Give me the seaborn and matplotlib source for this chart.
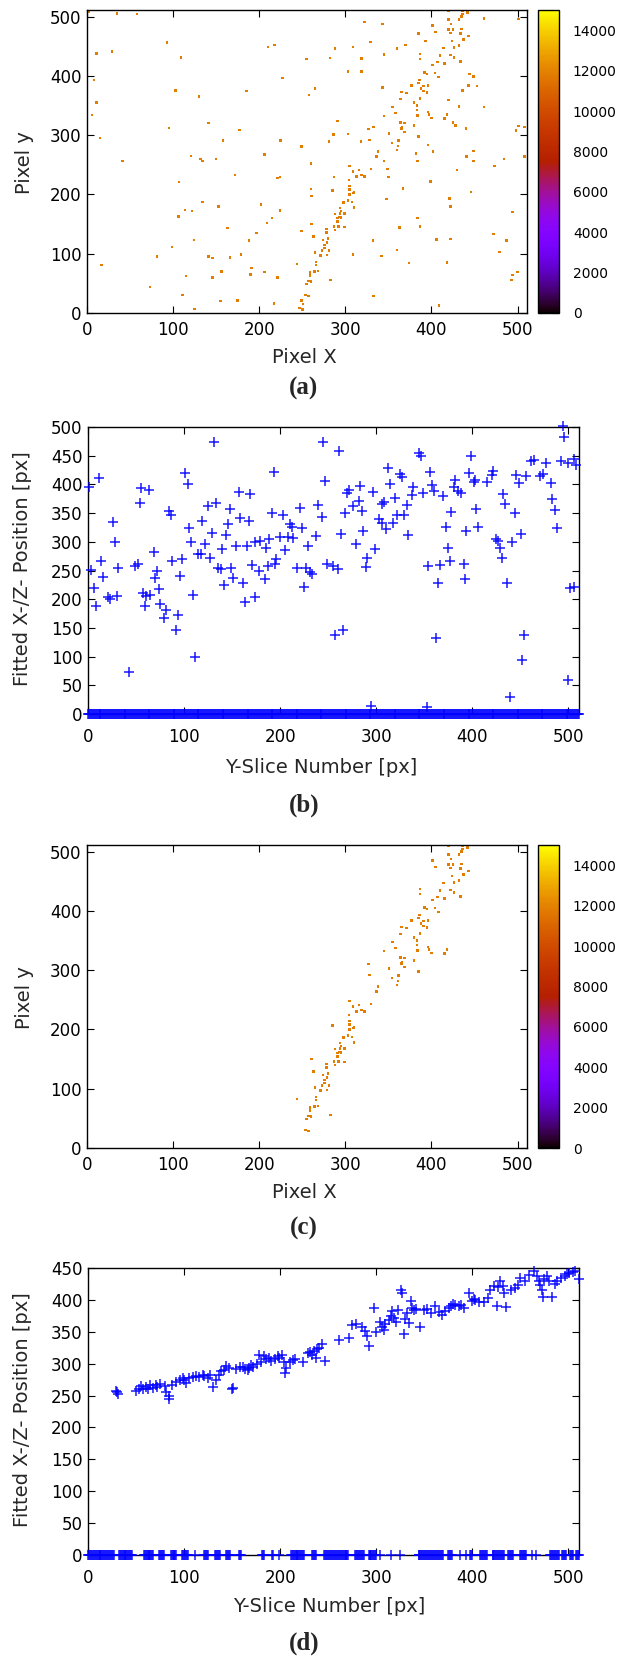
import matplotlib
matplotlib.use("Agg")
import matplotlib.pyplot as plt
from matplotlib.colors import Normalize
from matplotlib.cm import ScalarMappable
import numpy as np
import pandas as pd
import seaborn as sns

# ---------------------------------------------------------------------------
# Hit pixels of the detector image (pixel x, pixel y)
# ---------------------------------------------------------------------------
TRACK_X = [442, 436, 436, 420, 435, 432, 420, 423, 401, 435, 420, 425, 405, 422, 434, 443, 437, 424,
           432, 414, 426, 387, 410, 422, 426, 387, 407, 415, 434, 401, 392, 395, 404, 408, 386, 385,
           377, 391, 396, 388, 391, 395, 365, 371, 364, 387, 380, 383, 355, 383, 396, 397, 358, 345,
           384, 400, 415, 418, 369, 364, 380, 366, 327, 365, 369, 351, 385, 328, 354, 362, 361, 360,
           338, 336, 305, 309, 316, 330, 319, 322, 313, 304, 285, 305, 305, 310, 309, 305, 298, 303,
           308, 310, 294, 295, 294, 288, 299, 293, 295, 291, 261, 291, 292, 287, 299, 278, 288, 278,
           263, 280, 274, 279, 276, 276, 281, 273, 265, 271, 279, 244, 266, 266, 283, 264, 268, 259,
           259, 257, 260, 255, 254, 257]
TRACK_Y = [507, 510, 504, 510, 500, 495, 495, 487, 485, 479, 478, 478, 474, 472, 471, 467, 461, 459,
           451, 447, 448, 437, 434, 435, 431, 428, 423, 421, 424, 418, 406, 403, 405, 398, 393, 388,
           384, 383, 384, 379, 374, 372, 373, 371, 361, 362, 355, 350, 347, 342, 339, 335, 337, 332,
           333, 329, 328, 335, 320, 321, 316, 314, 310, 311, 305, 303, 298, 292, 287, 291, 282, 275,
           272, 264, 248, 239, 241, 243, 233, 230, 230, 224, 207, 214, 208, 203, 202, 200, 186, 190,
           187, 178, 177, 172, 168, 167, 168, 162, 161, 160, 150, 154, 146, 146, 145, 142, 140, 136,
           129, 126, 123, 119, 115, 110, 105, 105, 102, 97, 98, 83, 86, 81, 56, 70, 71, 68,
           63, 54, 53, 49, 30, 29]

NOISE_X = [2, 35, 58, 93, 29, 11, 109, 210, 218, 8, 103, 130, 185, 227, 11, 6, 141, 95, 177, 15,
           158, 225, 249, 121, 132, 134, 150, 206, 41, 172, 221, 224, 107, 134, 114, 122, 153, 202,
           224, 106, 215, 209, 163, 249, 124, 188, 197, 99, 81, 141, 146, 166, 179, 17, 191, 156,
           206, 190, 115, 146, 221, 73, 111, 155, 175, 217, 125, 249, 251, 247, 250,
           461, 501, 343, 322, 385, 393, 329, 309, 288, 370, 360, 345, 255, 282, 319, 303, 319, 444,
           449, 343, 436, 443, 453, 265, 258, 420, 432, 461, 425, 428, 291, 333, 440, 501, 508, 498,
           303, 286, 318, 281, 396, 382, 402, 449, 441, 449, 484, 508, 345, 384, 260, 473, 349, 430,
           287, 350, 399, 260, 367, 446, 261, 421, 348, 422, 384, 494, 387, 363, 472, 487, 406, 422,
           332, 309, 342, 360, 479, 374, 418, 494, 500, 493, 333, 409]
NOISE_Y = [508, 505, 504, 456, 441, 438, 431, 449, 452, 393, 375, 365, 374, 396, 355, 334, 320, 312,
           309, 295, 291, 291, 281, 265, 260, 256, 260, 267, 256, 233, 228, 229, 221, 187, 174, 172,
           180, 183, 173, 163, 160, 152, 143, 138, 123, 122, 135, 111, 95, 95, 93, 94, 99, 81, 76,
           70, 69, 65, 62, 60, 60, 44, 30, 20, 21, 16, 7, 21, 15, 8, 6,
           497, 496, 487, 491, 471, 459, 457, 449, 446, 452, 446, 436, 428, 430, 429, 407, 407, 403,
           399, 380, 375, 384, 383, 379, 368, 359, 348, 347, 321, 316, 324, 314, 311, 315, 314, 308,
           302, 301, 289, 289, 283, 269, 272, 273, 264, 256, 260, 264, 256, 256, 252, 248, 243, 241,
           229, 229, 222, 209, 210, 204, 197, 193, 192, 180, 160, 170, 146, 144, 133, 122, 124, 125,
           122, 99, 96, 106, 103, 84, 85, 64, 69, 56, 29, 13]

HIT_ADC = 11800                      # deposited charge of a hit pixel
CBAR_RANGE = (0, 15000)
CBAR_TICKS = [0, 2000, 4000, 6000, 8000, 10000, 12000, 14000]
PIXEL_TICKS = [0, 100, 200, 300, 400, 500]

# ---------------------------------------------------------------------------
# Fitted track position per Y-slice, raw image
# ---------------------------------------------------------------------------
FIT_RAW_SLICE = [131.5, 244.5, 11.8, 101.3, 103.7, 0.7, 193.2, 246.6, 55.5, 63.8, 53.8, 157.1, 169,
                 133.2, 124.5, 84, 86, 147.4, 26, 158.5, 167.5, 191.1, 203.3, 221, 239.7, 243.2, 119,
                 105.4, 145.3, 129, 143.6, 210.2, 212, 223, 236.9, 28.1, 107.5, 121.8, 68.3, 139.8,
                 154, 165.8, 174.1, 179, 188.7, 199.8, 208.1, 213.7, 184.9, 205, 228.6, 114.8, 117.6,
                 127.3, 13.9, 97.8, 87.4, 48.6, 51.7, 31.6, 135.3, 138, 149.1, 171, 187, 195.6, 194.2,
                 217.8, 226.5, 231.4, 233.1, 248.7, 3.1, 71.5, 69.7, 96.1, 177.6, 183.8, 151.2, 161,
                 16, 141.2, 224.4, 6.6, 73.9, 57.6, 64.2, 60.4, 30.5, 20.5, 22.5, 109.6, 163.7, 173.4,
                 8.3, 59.7, 74.9, 81.5, 93.7, 79.1, 91.2, 111.7, 42.3,
                 494.3, 495.7, 260.8, 344.8, 346.9, 398.2, 312.5, 356.2, 324.3, 326.7, 314.6, 282.7,
                 271.2, 269.5, 296.6, 338.5, 337.1, 348.2, 358, 360.4, 369.1, 382.2, 380.5, 385, 388.1,
                 396.1, 401.3, 403.1, 414.8, 421.4, 420.4, 445.7, 448.1, 456.1, 461.3, 464.1, 470.7,
                 473.5, 476.9, 481.8, 491.8, 499.1, 507.5, 505.4, 281.6, 275.4, 267.1, 285.1, 308.4,
                 305.9, 319.1, 331.9, 328.8, 321.5, 317.7, 302.5, 305.9, 310.4, 372.5, 378.1, 404.1,
                 444, 431.8, 433.9, 482.8, 485.6, 488.4, 263.3, 286.5, 333, 393.7, 405.8, 278.9, 299,
                 290.7, 288.9, 255.3, 259.8, 354.1, 366.3, 376.7, 390.9, 374.3, 424.6, 426.6, 428.7,
                 430.8, 441.6, 450.2, 392.3, 364.5, 436, 501.5, 506.1, 256.7, 265, 362.5, 453.3,
                 451.6, 499.8, 438.8, 294.1, 352.4]
FIT_RAW_POS = [474, 474, 412, 419, 400, 395, 422, 406, 393, 390, 368, 386, 384, 367, 362, 354, 346,
               357, 334, 341, 336, 351, 347, 359, 364, 343, 336, 324, 331, 316, 311, 331, 326, 324,
               310, 300, 299, 296, 283, 287, 292, 292, 299, 302, 305, 308, 308, 307, 290, 286, 292,
               279, 279, 272, 267, 270, 266, 258, 261, 254, 255, 252, 254, 259, 258, 270, 262, 254,
               255, 247, 244, 261, 251, 250, 237, 241, 249, 235, 237, 229, 238, 224, 221, 219, 217,
               210, 207, 206, 205, 203, 201, 208, 195, 204, 189, 189, 192, 182, 172, 167, 146, 100,
               73,
               501, 482, 459, 454, 449, 449, 428, 422, 418, 413, 401, 398, 391, 385, 386, 395, 381,
               385, 399, 389, 379, 408, 395, 389, 385, 419, 405, 408, 404, 423, 417, 416, 402, 414,
               441, 442, 415, 418, 437, 402, 441, 437, 433, 445, 371, 362, 350, 354, 369, 366, 376,
               364, 347, 347, 333, 339, 332, 322, 325, 352, 357, 350, 383, 366, 375, 356, 324, 313,
               319, 312, 319, 325, 296, 287, 272, 256, 257, 253, 258, 259, 267, 261, 289, 305, 301,
               290, 271, 299, 314, 236, 228, 229, 220, 222, 138, 147, 132, 138, 94, 59, 29, 14, 12]
# slices written out as 0 (no fit), as runs of (first, last)
EMPTY_RAW_RUNS = [(0, 511)]

# ---------------------------------------------------------------------------
# Fitted track position per Y-slice, filtered image
# ---------------------------------------------------------------------------
FIT_TRK_SLICE = [30.2, 29, 31, 50, 53.4, 55.5, 56.9, 62.1, 67.3, 70.8, 71.8, 80.5, 81.2, 84, 84.6,
                 87.4, 96.1, 98.5, 102, 105.4, 108.9, 115.9, 119.3, 124.5, 129.7, 127, 136.7, 138.4,
                 143.6, 149.8, 147, 154, 161, 163.7, 167.2, 169.6, 172, 175.5, 178.3, 180, 185.2, 188,
                 190.4, 199.1, 201.9, 204.3, 206, 205.3, 210.2, 213, 223.4, 228.6, 231, 235.5, 237.3,
                 240.7, 243.5, 247, 60, 65, 75, 92, 100, 112, 121, 133, 142, 151, 158, 166, 183, 195,
                 198, 215, 233, 238,
                 261.5, 271.9, 274.7, 278.9, 285.1, 288.6, 290.3, 292, 297.3, 299.7, 304.2, 305.9,
                 307.7, 309.4, 312.9, 316.3, 318.1, 320.5, 322.6, 326.1, 326.7, 328.5, 331.9, 334.4,
                 336.5, 337.1, 338.9, 345.8, 349.3, 357.3, 360.7, 368.4, 371.8, 375.3, 379.5, 382.2,
                 385.7, 390.9, 396.1, 399.6, 403.1, 406.5, 416.2, 418.7, 422.1, 425.6, 429.1, 431.5,
                 433.2, 435, 444.7, 447.5, 449.9, 458.6, 463.8, 469, 470.7, 472.4, 473.1, 477.6,
                 479.4, 482.8, 486.3, 492.5, 496.7, 500.9, 504.3, 506.4, 510.6, 315, 330, 341, 353,
                 365, 378, 388, 402, 412, 427, 440, 455, 467, 475, 488, 498]
FIT_TRK_POS = [255, 257, 253, 257, 261, 265, 261, 261, 262, 267, 264, 265, 256, 250, 244, 266, 274,
               277, 269, 277, 279, 279, 282, 277, 263, 282, 282, 288, 297, 261, 293, 292, 295, 292,
               293, 298, 295, 300, 314, 303, 307, 309, 304, 309, 313, 303, 293, 285, 303, 306, 303,
               316, 318, 320, 309, 325, 331, 304, 263, 266, 268, 272, 275, 281, 280, 275, 290, 262,
               294, 290, 312, 307, 312, 308, 313, 323,
               337, 340, 361, 362, 358, 351, 344, 328, 387, 350, 365, 358, 353, 362, 369, 382, 371,
               366, 384, 416, 411, 346, 379, 363, 398, 387, 384, 357, 384, 379, 390, 377, 382, 387,
               393, 392, 390, 388, 411, 398, 400, 396, 403, 416, 421, 390, 429, 421, 411, 389, 418,
               424, 434, 439, 445, 429, 424, 416, 405, 437, 430, 404, 425, 434, 437, 442, 444, 446,
               433, 375, 370, 386, 385, 381, 390, 392, 402, 397, 420, 416, 430, 438, 433, 430, 440]
EMPTY_TRK_RUNS = [(0, 27), (32, 46), (58, 68), (74, 79), (86, 92), (98, 104), (111, 111),
                  (121, 125), (132, 137), (144, 148), (157, 159), (181, 183), (192, 193), (199, 199),
                  (211, 225), (233, 237), (246, 271), (278, 287), (292, 300), (304, 304), (315, 315),
                  (325, 325), (344, 369), (375, 379), (387, 387), (393, 393), (398, 400), (408, 415),
                  (421, 433), (437, 442), (450, 456), (462, 462), (466, 466), (481, 490), (493, 497),
                  (502, 505), (508, 511)]

W, H = 626, 1657
sns.set_theme(style="ticks")
plt.rcParams["font.family"] = ["DejaVu Sans"]
plt.rcParams["axes.linewidth"] = 1.0
plt.rcParams["axes.edgecolor"] = "black"

fig = plt.figure(figsize=(W / 100, H / 100), dpi=100)
fig.patch.set_facecolor("white")


def frac(left, top, right, bottom):
    return [left / W, 1 - bottom / H, (right - left) / W, (bottom - top) / H]


def style_axes(ax, xlim, ylim, yticks, pad_x):
    ax.set_xlim(*xlim)
    ax.set_ylim(*ylim)
    ax.set_xticks(PIXEL_TICKS)
    ax.set_yticks(yticks)
    ax.tick_params(axis="both", which="major", direction="in", length=5, width=0.8,
                   top=True, right=True, labelsize=12, colors="black")
    ax.tick_params(axis="x", pad=pad_x)
    ax.tick_params(axis="y", pad=4)
    for sp in ax.spines.values():
        sp.set_visible(True)
        sp.set_color("black")
        sp.set_linewidth(1.0)
    ax.set_facecolor("white")


def image_panel(ax, cax, xs, ys):
    df = pd.DataFrame({"x": xs, "y": ys, "adc": [HIT_ADC] * len(xs)})
    sns.scatterplot(data=df, x="x", y="y", hue="adc", palette="gnuplot",
                    hue_norm=CBAR_RANGE, marker="s", s=3.2, linewidth=0,
                    legend=False, ax=ax)
    style_axes(ax, (0, 511), (0, 511), PIXEL_TICKS, 6)
    ax.set_xlabel("Pixel X", fontsize=14, va="center")
    ax.set_ylabel("Pixel y", fontsize=14, va="center", ha="center")
    ax.xaxis.set_label_coords(0.493, -0.1485)
    ax.yaxis.set_label_coords(-0.141, 0.495)

    sm = ScalarMappable(norm=Normalize(*CBAR_RANGE), cmap="gnuplot")
    cb = fig.colorbar(sm, cax=cax, ticks=CBAR_TICKS)
    cb.outline.set_linewidth(1.0)
    cb.outline.set_edgecolor("black")
    cax.tick_params(axis="y", which="major", direction="in", length=5, width=0.8,
                    left=True, right=True, labelsize=10, pad=10, colors="black")
    cax.minorticks_off()


def fit_panel(ax, slices, pos, runs, ymax, label_x, label_y):
    empty = [s for a, b in runs for s in range(a, b + 1)]
    df = pd.DataFrame({"slice": list(slices) + empty,
                       "pos": list(pos) + [0] * len(empty)})
    sns.scatterplot(data=df, x="slice", y="pos", marker="+", s=60, color="#0000ff",
                    edgecolor=None, linewidth=1.1, alpha=0.9, legend=False,
                    clip_on=False, zorder=3, ax=ax)
    style_axes(ax, (0, 511), (0, ymax), list(range(0, ymax + 1, 50)), 10)
    ax.set_xlabel("Y-Slice Number [px]", fontsize=14, va="center")
    ax.set_ylabel("Fitted X-/Z- Position [px]", fontsize=14, va="center", ha="center")
    ax.xaxis.set_label_coords(label_x, label_y)
    ax.yaxis.set_label_coords(-0.134, 0.505)


# (a) raw image with all hits
ax_a = fig.add_axes(frac(87, 10, 527, 313))
cax_a = fig.add_axes(frac(538, 10, 559, 313))
image_panel(ax_a, cax_a, TRACK_X + NOISE_X, TRACK_Y + NOISE_Y)

# (b) slice-wise fit of the raw image
ax_b = fig.add_axes(frac(88, 427, 579, 714))
fit_panel(ax_b, FIT_RAW_SLICE, FIT_RAW_POS, EMPTY_RAW_RUNS, 500, 0.4745, -0.185)

# (c) filtered image, track hits only
ax_c = fig.add_axes(frac(87, 845, 527, 1148))
cax_c = fig.add_axes(frac(538, 845, 559, 1148))
image_panel(ax_c, cax_c, TRACK_X, TRACK_Y)

# (d) slice-wise fit of the filtered image
ax_d = fig.add_axes(frac(88, 1268, 579, 1555))
fit_panel(ax_d, FIT_TRK_SLICE, FIT_TRK_POS, EMPTY_TRK_RUNS, 450, 0.491, -0.180)

# panel letters
for letter, yc in [("(a)", 388), ("(b)", 805), ("(c)", 1228), ("(d)", 1643)]:
    fig.text(304 / W, 1 - yc / H, letter, ha="center", va="center", fontsize=18,
             fontweight="bold", family=["Liberation Serif", "DejaVu Serif"])

fig.savefig("out.png", dpi=100, facecolor="white")
